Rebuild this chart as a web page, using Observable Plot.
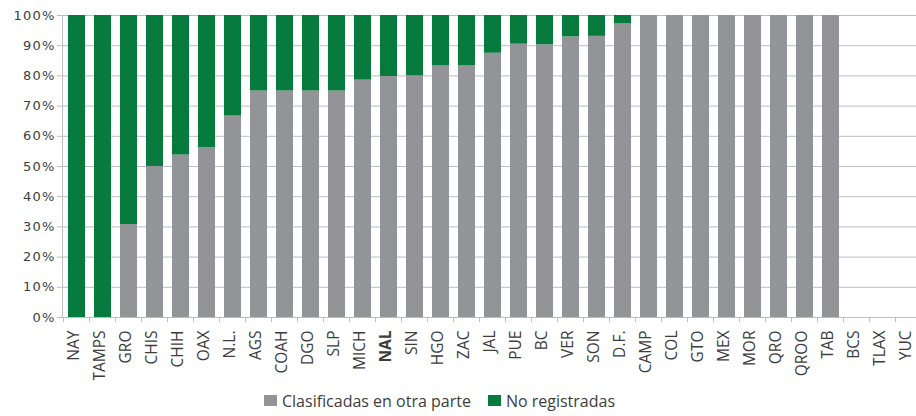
<!DOCTYPE html>
<html><head><meta charset="utf-8">
<script src="https://cdn.jsdelivr.net/npm/d3@7"></script>
<script src="https://cdn.jsdelivr.net/npm/@observablehq/plot@0.6"></script>
<style>
body{margin:0;background:#fff;overflow:hidden;font-family:"Open Sans",sans-serif;}
#legend{display:flex;align-items:center;padding-left:264px;height:31px;font-size:16px;color:#3d3d3d;}
.item{display:flex;align-items:center;margin-right:17px;}
.sw{width:13px;height:11px;display:inline-block;margin-right:5px;}
</style></head><body><div id="chart"></div><div id="legend"></div>
<script>
const categories = ["NAY","TAMPS","GRO","CHIS","CHIH","OAX","N.L.","AGS","COAH","DGO","SLP","MICH","NAL","SIN","HGO","ZAC","JAL","PUE","BC","VER","SON","D.F.","CAMP","COL","GTO","MEX","MOR","QRO","QROO","TAB","BCS","TLAX","YUC"];
const clasificadas = [0,0,30.8,50,53.8,56.3,66.7,75,75,75,75,78.6,79.8,80,83.3,83.3,87.5,90.5,90.3,92.9,93.1,97.2,100,100,100,100,100,100,100,100,0,0,0];
const noRegistradas = [100,100,69.2,50,46.2,43.7,33.3,25,25,25,25,21.4,20.2,20,16.7,16.7,12.5,9.5,9.7,7.1,6.9,2.8,0,0,0,0,0,0,0,0,0,0,0];
const seriesNames = ["Clasificadas en otra parte","No registradas"];
const seriesColors = ["#939498","#077a3e"];
const yTicks = [0,10,20,30,40,50,60,70,80,90,100];
const boldCategory = "NAL";

const rows = [];
categories.forEach((c,i)=>{
  rows.push({cat:c, serie:seriesNames[0], value:clasificadas[i]});
  rows.push({cat:c, serie:seriesNames[1], value:noRegistradas[i]});
});

const axisGray = "#bdbdbd";
const textColor = "#3d3d3d";

function boundaryTicks(index, scales, values, dims){
  const x = scales.x, y = scales.y;
  const bw = x.bandwidth();
  const step = x.step ? x.step() : bw/0.66;
  const g = d3.create("svg:g").attr("stroke", axisGray).attr("stroke-width",1);
  const y0 = y(0);
  categories.forEach(c=>{
    const bx = x(c) - (step - bw)/2;
    g.append("line").attr("x1",bx).attr("x2",bx).attr("y1",y0).attr("y2",y0+5);
  });
  const last = x(categories[categories.length-1]) - (step-bw)/2 + step;
  g.append("line").attr("x1",last).attr("x2",last).attr("y1",y0).attr("y2",y0+5);
  g.append("line").attr("x1",dims.marginLeft+0.5).attr("x2",dims.marginLeft+0.5).attr("y1",y(100)).attr("y2",y0);
  return g.node();
}

const chart = Plot.plot({
  width: 916,
  height: 385,
  marginTop: 15,
  marginBottom: 68,
  marginLeft: 62,
  marginRight: -8,
  style: {fontFamily: "'Open Sans', sans-serif", background: "#fff"},
  x: {domain: categories, paddingInner: 0.34, paddingOuter: 0.17, label: null},
  y: {domain: [0,100], label: null},
  color: {domain: seriesNames, range: seriesColors},
  marks: [
    Plot.gridY(yTicks, {stroke: axisGray, strokeOpacity: 1}),
    Plot.barY(rows, {x: "cat", y: "value", fill: "serie"}),
    Plot.axisY({ticks: yTicks, tickFormat: d => d + "%", tickSize: 5, tickPadding: 2, stroke: axisGray, fill: textColor, fontSize: 13, label: null}),
    Plot.axisX({tickSize: 0, tickRotate: -90, tickPadding: 13, dx: -3, fill: textColor, fontSize: 15.5, label: null}),
    boundaryTicks
  ]
});
document.getElementById("chart").appendChild(chart);
d3.select(chart).selectAll('g[aria-label="y-axis tick label"] text')
  .style("font-family", "'DejaVu Sans', sans-serif")
  .style("letter-spacing","1.2px");
d3.select(chart).selectAll('g[aria-label="x-axis tick label"] text')
  .filter(function(){return this.textContent === boldCategory;})
  .attr("font-weight","bold");

const legend = d3.select("#legend");
seriesNames.forEach((s,i)=>{
  const it = legend.append("div").attr("class","item");
  it.append("span").attr("class","sw").style("background", seriesColors[i]);
  it.append("span").text(s);
});
</script></body></html>
